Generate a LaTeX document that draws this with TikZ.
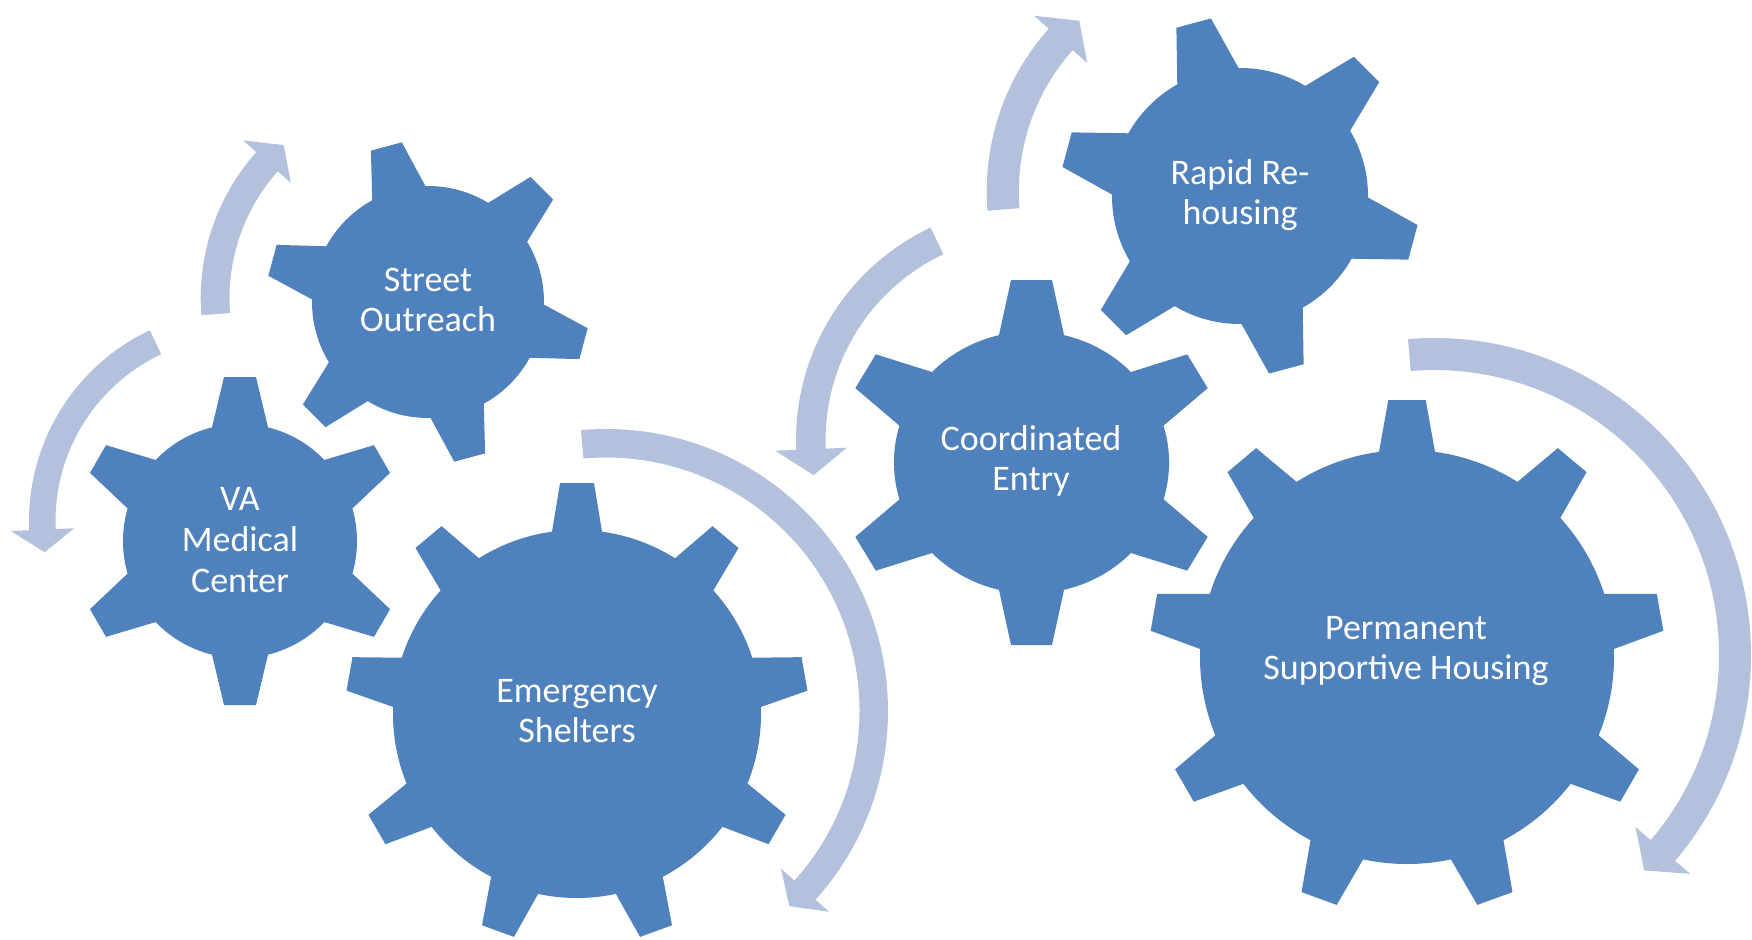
\documentclass[tikz,border=0pt]{standalone}
\usepackage{fontspec}
\setmainfont{Carlito}
\definecolor{gearblue}{RGB}{79,129,189}
\definecolor{arrowblue}{RGB}{179,193,220}

\tikzset{every picture/.style={line width=0.75pt}}
\tikzset{
  gearfill/.style={fill=gearblue},
  arrowfill/.style={fill=arrowblue},
  gearlabel/.style={text=white, align=center, inner sep=0.75pt, font=\fontsize{27}{30.5}\selectfont}
}

% #1 centre, #2 teeth, #3 first tooth angle, #4 body radius, #5 tip radius, #6 half width at body, #7 half width at tip, #8 extra options
\newcommand{\gearshape}[8]{%
  \begin{scope}[shift={#1},#8]
    \fill[gearfill] (0,0) circle (#4);
    \foreach \k in {1,...,#2}{
      \pgfmathsetmacro{\toothangle}{#3+(\k-1)*360/#2}
      \pgfmathsetmacro{\toothbase}{#4*sqrt(1-(#6/#4)*(#6/#4))}
      \fill[gearfill,rotate=\toothangle] (#4-25,-#6) -- (\toothbase,-#6) -- (#5,-#7) -- (#5,#7) -- (\toothbase,#6) -- (#4-25,#6) -- cycle;
    }
  \end{scope}}

% #1 centre, #2 inner radius, #3 outer radius, #4 tail angle, #5 head angle, #6 tip angle, #7 barb overhang
\newcommand{\arcarrow}[7]{%
  \fill[arrowfill,shift={#1}] (#4:#3) arc[start angle=#4, end angle=#5, radius=#3]
    -- (#5:#3+#7) -- (#6:{(#2+#3)/2}) -- (#5:#2-#7) -- (#5:#2)
    arc[start angle=#5, end angle=#4, radius=#2] -- cycle;}

\begin{document}
\begin{tikzpicture}[x=0.75pt,y=0.75pt,yscale=-1,xscale=1]
\useasboundingbox (0,0) rectangle (1752,939);

%Shape: Circular Arrow [VA Medical Center]
\arcarrow{(240,521)}{184.5}{211}{-115.3}{-182.5}{-189.1}{18.5}
%Shape: Circular Arrow [Street Outreach]
\arcarrow{(420,298)}{190.5}{219.3}{-184.5}{-138.3}{-131.7}{17.5}
%Shape: Circular Arrow [Emergency Shelters]
\arcarrow{(606,711)}{253.5}{282}{-95.1}{42}{46.8}{18}
%Shape: Circular Arrow [Coordinated Entry]
\arcarrow{(1031,440)}{205.4}{235}{-115.3}{-182.4}{-189.2}{21}
%Shape: Circular Arrow [Rapid Re-housing]
\arcarrow{(1231.4,191.5)}{212.6}{244.7}{-184.5}{-138.3}{-131.7}{19.5}
%Shape: Circular Arrow [Permanent Supportive Housing]
\arcarrow{(1434,655)}{285}{317}{-94.7}{40.5}{45.7}{20}

%Shape: Gear [VA Medical Center]
\gearshape{(240,541)}{6}{-90}{117}{164}{28}{16}{}
%Shape: Gear [Street Outreach]
\gearshape{(428,302)}{6}{15}{116}{161}{27.5}{16}{}
%Shape: Gear [Emergency Shelters]
\gearshape{(577,714)}{9}{-90}{184}{231}{25}{17}{}
%Shape: Gear [Coordinated Entry]
\gearshape{(1031.5,462.5)}{6}{-90}{131}{182.5}{31}{19.5}{xscale=1.05}
%Shape: Gear [Rapid Re-housing]
\gearshape{(1240,196)}{6}{15}{128}{179}{31.7}{17.9}{}
%Shape: Gear [Permanent Supportive Housing]
\gearshape{(1407,657)}{9}{-90}{207}{257}{28}{18.7}{}

% Text Node
\node[gearlabel] (medical) at (240,540) {VA\\Medical\\Center};
% Text Node
\node[gearlabel] (outreach) at (428,300) {Street\\Outreach};
% Text Node
\node[gearlabel] (shelters) at (577,711) {Emergency\\Shelters};
% Text Node
\node[gearlabel] (entry) at (1031,461) {Coordinated\\Entry};
% Text Node
\node[gearlabel] (rapid) at (1240,195) {Rapid Re-\\housing};
% Text Node
\node[gearlabel] (supportive) at (1406,651) {Permanent\\Supportive Housing};

\end{tikzpicture}
\end{document}
